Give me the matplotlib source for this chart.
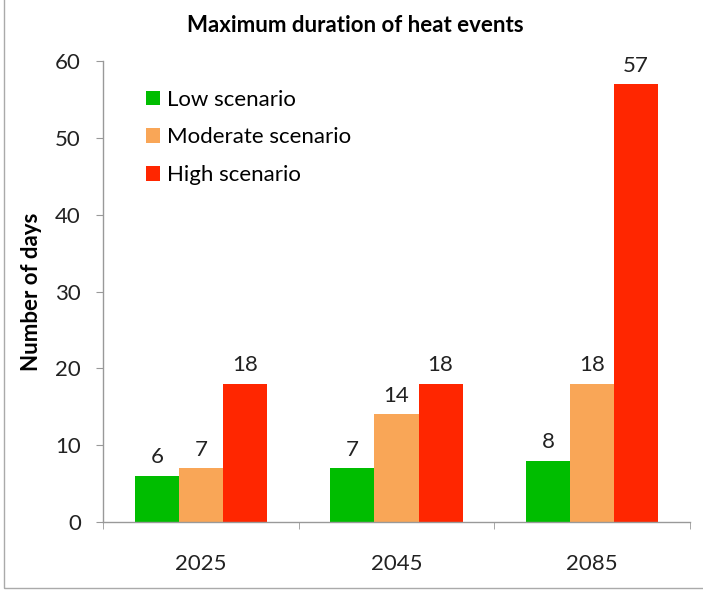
import matplotlib
matplotlib.use("Agg")
import matplotlib.pyplot as plt
import numpy as np
from matplotlib.patches import Rectangle

categories = ["2025", "2045", "2085"]
series_names = ["Low scenario", "Moderate scenario", "High scenario"]
low = [6, 7, 8]
moderate = [7, 14, 18]
high = [18, 18, 57]
colors = ["#00BD00", "#F9A657", "#FF2600"]

plt.rcParams['font.family'] = ['Lato', 'DejaVu Sans']

fig = plt.figure(figsize=(7.03, 5.93), dpi=100)
ax = fig.add_axes([103/703, 71/593, 587/703, 461/593])

x = np.arange(len(categories))
w = 0.225
for i, (vals, name, c) in enumerate(zip([low, moderate, high], series_names, colors)):
    pos = x + (i - 1) * w
    ax.bar(pos, vals, width=w, color=c, label=name)
    for p, v in zip(pos, vals):
        ax.text(p, v + 1.1, str(v), ha='center', va='bottom', fontsize=16, color='#222222')

ax.set_xlim(-0.5, 2.5)
ax.set_ylim(0, 60)
ax.set_yticks(range(0, 61, 10))
ax.set_xticks(x)
ax.set_xticklabels(categories)
ax.set_xticks([-0.5, 0.5, 1.5, 2.5], minor=True)
ax.tick_params(axis='x', which='major', length=0, pad=23, labelsize=16, colors='#222222')
ax.tick_params(axis='x', which='minor', length=5, direction='out', color='#999999')
ax.tick_params(axis='y', length=5, direction='out', color='#999999', labelsize=16, labelcolor='#222222', pad=11)
for s in ['top', 'right']:
    ax.spines[s].set_visible(False)
for s in ['left', 'bottom']:
    ax.spines[s].set_color('#999999')
    ax.spines[s].set_linewidth(1)

ax.set_ylabel("Number of days", fontsize=16, fontweight='bold', labelpad=9)
fig.text(355/703, 1 - 25/593, "Maximum duration of heat events", ha='center', va='center',
         fontsize=16, fontweight='bold')

leg = ax.legend(loc='upper left', bbox_to_anchor=(0.074, 0.938), frameon=False, fontsize=16,
                borderpad=0, borderaxespad=0,
                handlelength=0.62, handleheight=0.62, handletextpad=0.3, labelspacing=0.8)

fig.patches.append(Rectangle((4/703, 5/593), 1.0, 1.0, transform=fig.transFigure,
                             fill=False, edgecolor='#AAAAAA', linewidth=1))

fig.savefig("out.png", dpi=100, facecolor='white')
